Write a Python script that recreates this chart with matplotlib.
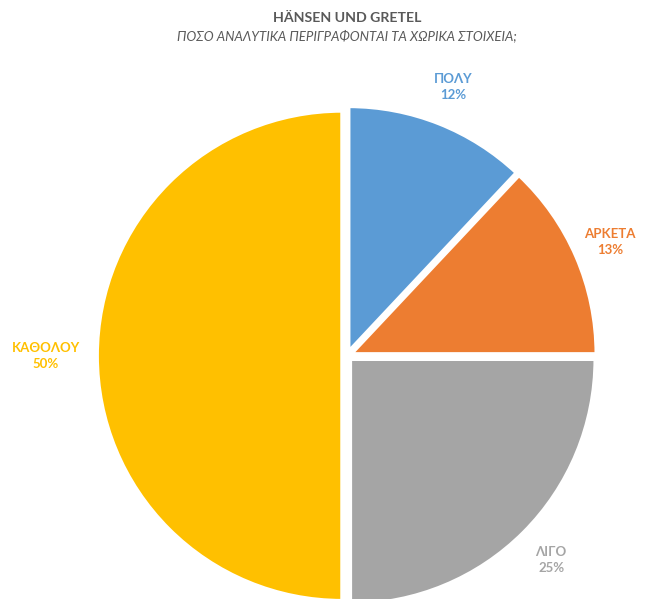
import numpy as np
import matplotlib.pyplot as plt

plt.rcParams['font.family'] = ['Lato', 'DejaVu Sans']

categories = ['ΠΟΛΥ', 'ΑΡΚΕΤΑ', 'ΛΙΓΟ', 'ΚΑΘΟΛΟΥ']
shares = [12, 13, 25, 50]
colors = ['#5B9BD5', '#ED7D31', '#A5A5A5', '#FFC000']
label_colors = ['#5B9BD5', '#ED7D31', '#A5A5A5', '#FFC000']

fig = plt.figure(figsize=(6.46, 5.99), dpi=100)
# square axes holding the pie, radius ~245 px, centre near (347, 356) px
ax = fig.add_axes([0.158, -0.003, 0.758, 0.818])

wedges, _ = ax.pie(shares, colors=colors, startangle=90, counterclock=False,
                   explode=[0.02] * 4,
                   wedgeprops=dict(edgecolor='white', linewidth=2.5))
for w in wedges:
    w.set_clip_on(False)
ax.set_xlim(-1, 1)
ax.set_ylim(-1, 1)
ax.set_aspect('equal')
ax.axis('off')

dists = [1.18, 1.17, 1.18, 1.23]
for w, name, val, col, d in zip(wedges, categories, shares, label_colors, dists):
    ang = np.deg2rad((w.theta1 + w.theta2) / 2)
    ax.text(d * np.cos(ang), d * np.sin(ang), f'{name}\n{val}%', color=col,
            ha='center', va='center', fontsize=9.5, fontweight='bold',
            linespacing=1.4, clip_on=False)

fig.text(0.537, 0.970, 'HÄNSEN UND GRETEL', ha='center', va='center',
         fontsize=10.2, fontweight='bold', color='#595959')
fig.text(0.537, 0.941, 'ΠΟΣΟ ΑΝΑΛΥΤΙΚΑ ΠΕΡΙΓΡΑΦΟΝΤΑΙ ΤΑ ΧΩΡΙΚΑ ΣΤΟΙΧΕΙΑ;',
         ha='center', va='center', fontsize=9.5, fontstyle='italic', color='#595959')

fig.savefig('out.png', dpi=100, facecolor='white')
